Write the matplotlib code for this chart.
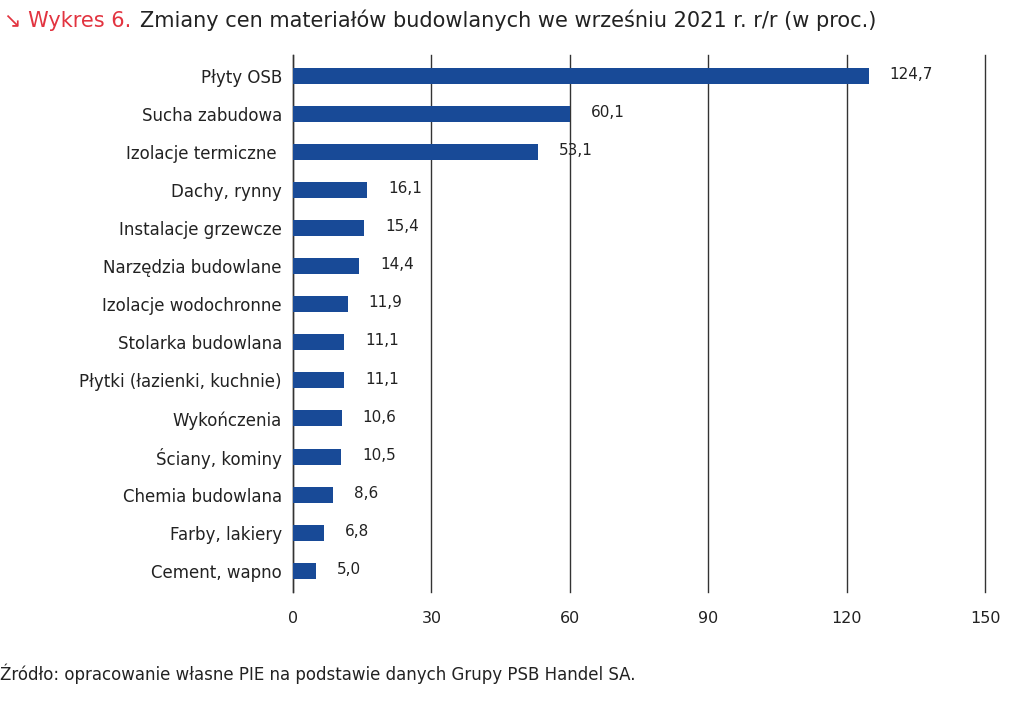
import matplotlib.pyplot as plt

plt.rcParams['font.family'] = ['DejaVu Sans']

# Data
categories = ['Płyty OSB', 'Sucha zabudowa', 'Izolacje termiczne ', 'Dachy, rynny',
              'Instalacje grzewcze', 'Narzędzia budowlane', 'Izolacje wodochronne',
              'Stolarka budowlana', 'Płytki (łazienki, kuchnie)', 'Wykończenia',
              'Ściany, kominy', 'Chemia budowlana', 'Farby, lakiery', 'Cement, wapno']
values = [124.7, 60.1, 53.1, 16.1, 15.4, 14.4, 11.9, 11.1, 11.1, 10.6, 10.5, 8.6, 6.8, 5.0]
xticks = [0, 30, 60, 90, 120, 150]

bar_color = '#184a97'
red = '#e23440'

fig = plt.figure(figsize=(10.21, 7.02), dpi=100)
ax = fig.add_axes([0.287, 0.157, 0.678, 0.765])

y = list(range(len(categories)))[::-1]
ax.barh(y, values, height=0.42, color=bar_color, zorder=3)

for yi, v in zip(y, values):
    ax.annotate(f'{v:.1f}'.replace('.', ','), xy=(v, yi), xytext=(15, 1),
                textcoords='offset points', va='center', ha='left',
                fontsize=11, color='#222222')

ax.set_xlim(0, 150)
ax.set_ylim(-0.55, len(categories) - 0.45)
ax.set_xticks(xticks)
ax.set_xticklabels([str(t) for t in xticks])
ax.set_yticks(y)
ax.set_yticklabels(categories)
ax.tick_params(axis='y', length=0, labelsize=12, colors='#222222', pad=8)
ax.tick_params(axis='x', length=0, labelsize=11.5, colors='#222222', pad=14)

ax.grid(axis='x', color='#333333', linewidth=1.0, zorder=0)
for gl in ax.get_xgridlines():
    gl.set_clip_on(False)
for s in ['top', 'right', 'bottom']:
    ax.spines[s].set_visible(False)
ax.spines['left'].set_color('#333333')
ax.spines['left'].set_linewidth(1.0)

# Title in two colours
t1 = fig.text(0.004, 0.962, '↘ Wykres 6.', color=red, fontsize=15, va='baseline')
ax.annotate('Zmiany cen materiałów budowlanych we wrześniu 2021 r. r/r (w proc.)',
            xy=(1, 0), xycoords=t1, xytext=(6, 0), textcoords='offset points',
            fontsize=15, color='#222222', va='bottom', ha='left')

fig.text(0.0, 0.032, 'Źródło: opracowanie własne PIE na podstawie danych Grupy PSB Handel SA.',
         fontsize=12, color='#222222')

fig.savefig('out.png', dpi=100)
